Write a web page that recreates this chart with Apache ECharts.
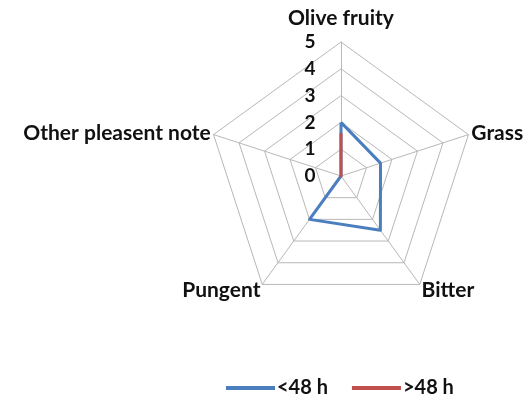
<!DOCTYPE html>
<html><head><meta charset="utf-8">
<script src="https://cdn.jsdelivr.net/npm/echarts@6/dist/echarts.min.js"></script>
<style>html,body{margin:0;padding:0;background:#fff}#c{width:531px;height:405px}</style>
</head><body><div id="c"></div>
<script>
const categories = ['Olive fruity', 'Grass', 'Bitter', 'Pungent', 'Other pleasent note'];
const seriesNames = ['<48 h', '>48 h'];
const below48 = [2.0, 1.55, 2.5, 2.0, 0];
const above48 = [1.6, 0, 0, 0, 0];
const axisTicks = ['0', '1', '2', '3', '4', '5'];
const maxValue = 5;
const colors = ['#4A7EBF', '#C0504D'];

// ECharts lays indicators out counter-clockwise; reorder so they run clockwise
const order = [0, 4, 3, 2, 1];
const reorder = arr => order.map(i => arr[i]);

const chart = echarts.init(document.getElementById('c'));
const font = 'Lato';
const fs = 21;
const nameStyle = {fontFamily: font, fontWeight: 'bold', fontSize: fs, color: '#111'};
chart.setOption({
  animation: false,
  backgroundColor: '#fff',
  legend: {
    bottom: 2,
    left: 221,
    itemWidth: 49, itemHeight: 4, itemGap: 24,
    icon: 'rect',
    data: seriesNames,
    textStyle: {fontFamily: font, fontWeight: 'bold', fontSize: 20, color: '#111', padding: [0,0,0,-3]}
  },
  radar: [{
    center: [341, 176], radius: 134, startAngle: 90, shape: 'polygon',
    splitNumber: 5,
    indicator: reorder(categories).map(n => ({name: n, max: maxValue, min: 0})),
    axisName: Object.assign({}, nameStyle, {
      formatter: (v) => v === categories[0] ? '{top|' + v + '}' :
        (v === categories[2] || v === categories[3]) ? '{bot|' + v + '}' : v,
      rich: {
        top: Object.assign({}, nameStyle, {padding: [0,0,10,0]}),
        bot: Object.assign({}, nameStyle, {padding: [7,0,0,0]})
      }
    }),
    nameGap: 3,
    axisLine: {lineStyle: {color: '#B8B8B8', width: 1}},
    splitLine: {lineStyle: {color: '#B8B8B8', width: 1}},
    splitArea: {show: false},
    axisLabel: {show: false}
  }, {
    center: [341, 176], radius: 134, startAngle: 90, shape: 'polygon',
    splitNumber: 5,
    indicator: [{name: '', max: maxValue, min: 0}],
    axisName: {show: false},
    axisLine: {show: false},
    splitLine: {show: false},
    splitArea: {show: false},
    axisTick: {show: false},
    axisLabel: {show: true, showMinLabel: true, color: '#111', fontFamily: font, fontWeight: 'bold', fontSize: 19, margin: 31, align: 'center',
      formatter: (v) => axisTicks[Math.round(v)] }
  }],
  series: [{
    type: 'radar', radarIndex: 0, symbol: 'none',
    data: [
      {name: seriesNames[0], value: reorder(below48), lineStyle: {color: colors[0], width: 3}, itemStyle: {color: colors[0]}},
      {name: seriesNames[1], value: reorder(above48), lineStyle: {color: colors[1], width: 3}, itemStyle: {color: colors[1]}}
    ]
  }]
});
</script></body></html>
